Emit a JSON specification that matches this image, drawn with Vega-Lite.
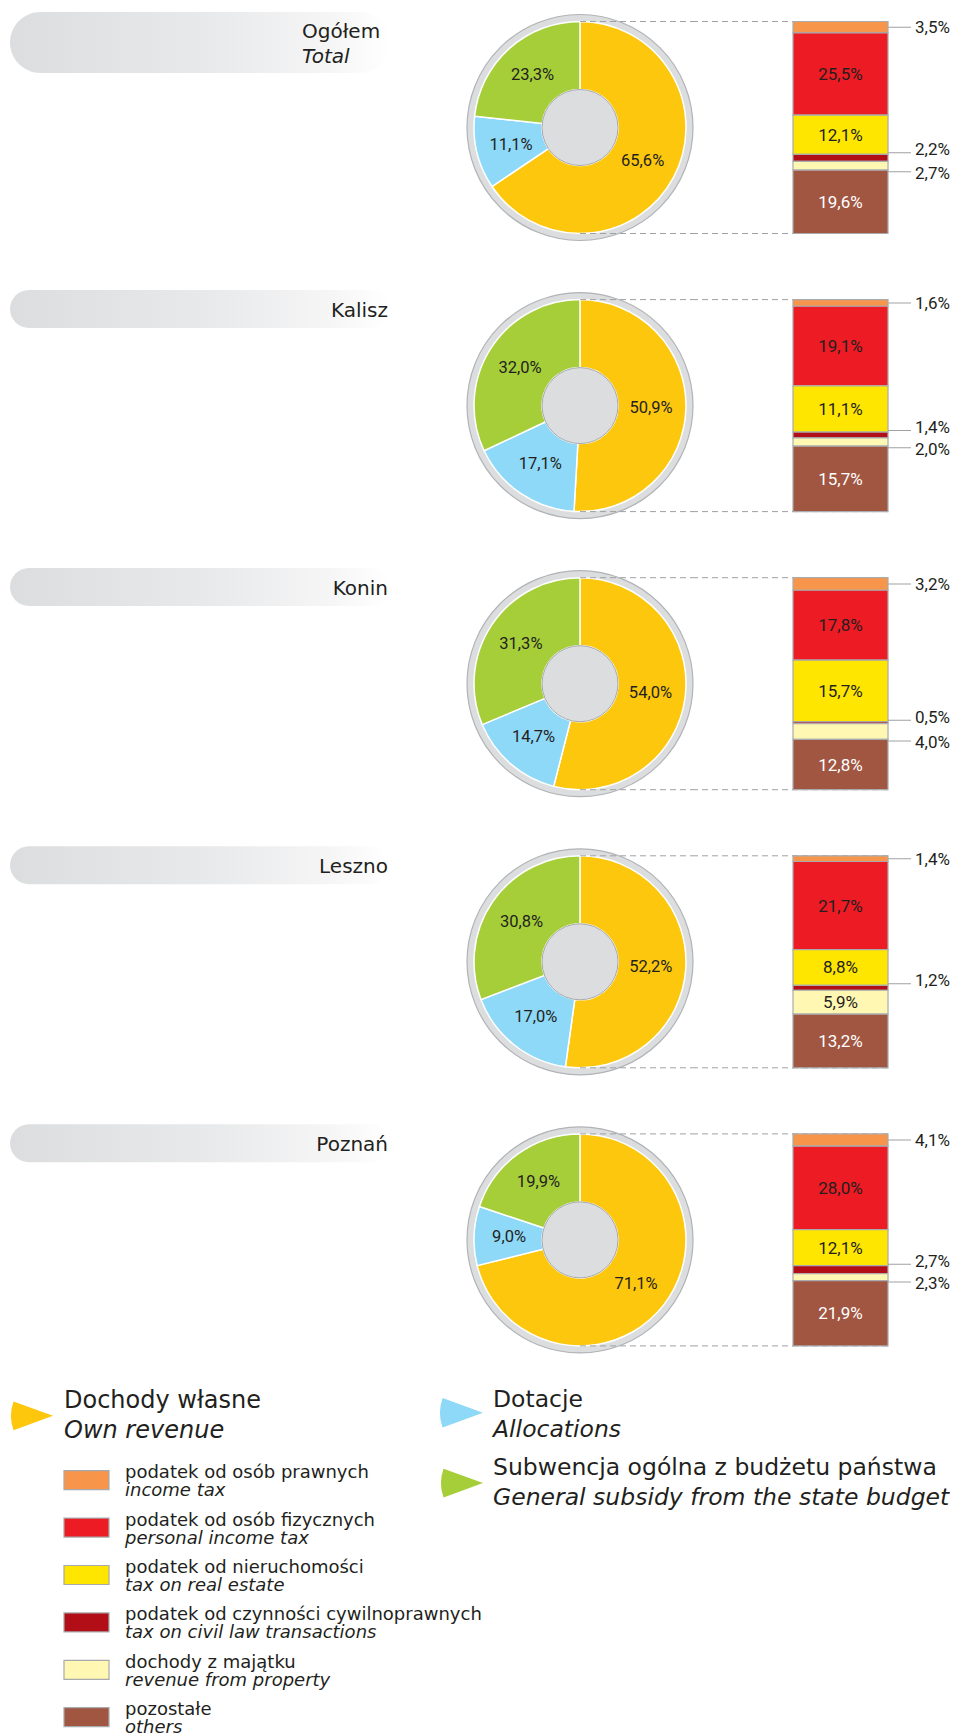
{
"$schema": "https://vega.github.io/schema/vega-lite/v6.json",
"padding": {"left": 10, "top": 12, "right": 0, "bottom": 0},
"background": "#ffffff",
"config": {
  "view": {"stroke": null},
  "locale": {"number": {"decimal": ",", "thousands": " ", "grouping": [3], "currency": ["", "%"]}}
},
"datasets": {
  "regions": [
    {"region": "Ogółem", "en": "Total"},
    {"region": "Kalisz", "en": ""},
    {"region": "Konin", "en": ""},
    {"region": "Leszno", "en": ""},
    {"region": "Poznań", "en": ""}
  ],
  "pie": [
    {"region": "Ogółem", "cat": "dochody", "value": 65.6},
    {"region": "Ogółem", "cat": "dotacje", "value": 11.1},
    {"region": "Ogółem", "cat": "subwencja", "value": 23.3},
    {"region": "Kalisz", "cat": "dochody", "value": 50.9},
    {"region": "Kalisz", "cat": "dotacje", "value": 17.1},
    {"region": "Kalisz", "cat": "subwencja", "value": 32.0},
    {"region": "Konin", "cat": "dochody", "value": 54.0},
    {"region": "Konin", "cat": "dotacje", "value": 14.7},
    {"region": "Konin", "cat": "subwencja", "value": 31.3},
    {"region": "Leszno", "cat": "dochody", "value": 52.2},
    {"region": "Leszno", "cat": "dotacje", "value": 17.0},
    {"region": "Leszno", "cat": "subwencja", "value": 30.8},
    {"region": "Poznań", "cat": "dochody", "value": 71.1},
    {"region": "Poznań", "cat": "dotacje", "value": 9.0},
    {"region": "Poznań", "cat": "subwencja", "value": 19.9}
  ],
  "bar": [
    {"region": "Ogółem", "cat": "prawne", "value": 3.5},
    {"region": "Ogółem", "cat": "fizyczne", "value": 25.5},
    {"region": "Ogółem", "cat": "nieruchomosci", "value": 12.1},
    {"region": "Ogółem", "cat": "czynnosci", "value": 2.2},
    {"region": "Ogółem", "cat": "majatek", "value": 2.7},
    {"region": "Ogółem", "cat": "pozostale", "value": 19.6},
    {"region": "Kalisz", "cat": "prawne", "value": 1.6},
    {"region": "Kalisz", "cat": "fizyczne", "value": 19.1},
    {"region": "Kalisz", "cat": "nieruchomosci", "value": 11.1},
    {"region": "Kalisz", "cat": "czynnosci", "value": 1.4},
    {"region": "Kalisz", "cat": "majatek", "value": 2.0},
    {"region": "Kalisz", "cat": "pozostale", "value": 15.7},
    {"region": "Konin", "cat": "prawne", "value": 3.2},
    {"region": "Konin", "cat": "fizyczne", "value": 17.8},
    {"region": "Konin", "cat": "nieruchomosci", "value": 15.7},
    {"region": "Konin", "cat": "czynnosci", "value": 0.5},
    {"region": "Konin", "cat": "majatek", "value": 4.0},
    {"region": "Konin", "cat": "pozostale", "value": 12.8},
    {"region": "Leszno", "cat": "prawne", "value": 1.4},
    {"region": "Leszno", "cat": "fizyczne", "value": 21.7},
    {"region": "Leszno", "cat": "nieruchomosci", "value": 8.8},
    {"region": "Leszno", "cat": "czynnosci", "value": 1.2},
    {"region": "Leszno", "cat": "majatek", "value": 5.9},
    {"region": "Leszno", "cat": "pozostale", "value": 13.2},
    {"region": "Poznań", "cat": "prawne", "value": 4.1},
    {"region": "Poznań", "cat": "fizyczne", "value": 28.0},
    {"region": "Poznań", "cat": "nieruchomosci", "value": 12.1},
    {"region": "Poznań", "cat": "czynnosci", "value": 2.7},
    {"region": "Poznań", "cat": "majatek", "value": 2.3},
    {"region": "Poznań", "cat": "pozostale", "value": 21.9}
  ],
  "legend_main": [
    {"key": "dochody", "pl": "Dochody własne", "en": "Own revenue"},
    {"key": "dotacje", "pl": "Dotacje", "en": "Allocations"},
    {"key": "subwencja", "pl": "Subwencja ogólna z budżetu państwa", "en": "General subsidy from the state budget"}
  ],
  "legend_items": [
    {"key": "prawne", "pl": "podatek od osób prawnych", "en": "income tax"},
    {"key": "fizyczne", "pl": "podatek od osób fizycznych", "en": "personal income tax"},
    {"key": "nieruchomosci", "pl": "podatek od nieruchomości", "en": "tax on real estate"},
    {"key": "czynnosci", "pl": "podatek od czynności cywilnoprawnych", "en": "tax on civil law transactions"},
    {"key": "majatek", "pl": "dochody z majątku", "en": "revenue from property"},
    {"key": "pozostale", "pl": "pozostałe", "en": "others"}
  ]
},
"bounds": "flush",
"spacing": 1385.8,
"vconcat": [
  {
    "bounds": "flush",
    "spacing": 457,
    "hconcat": [
      {
        "bounds": "flush",
        "spacing": 217,
        "vconcat": [
          {
            "width": 380, "height": 61,
            "view": {"stroke": null, "cornerRadius": 30.5, "fill": {"gradient": "linear", "x1": 0, "y1": 0, "x2": 1, "y2": 0, "stops": [{"offset": 0, "color": "#dcdddf"}, {"offset": 0.55, "color": "#e9eaeb"}, {"offset": 0.85, "color": "#f6f6f7"}, {"offset": 1, "color": "#ffffff"}]}},
            "data": {"name": "regions"},
            "transform": [{"filter": "datum.region == 'Ogółem'"}],
            "layer": [
              {"mark": {"type": "text", "align": "left", "baseline": "alphabetic", "dx": -88, "dy": -4.5, "font": "DejaVu Sans", "fontSize": 20, "fill": "#231f20"},
               "encoding": {"x": {"value": "width"}, "text": {"field": "region", "type": "nominal"}}},
              {"mark": {"type": "text", "align": "left", "baseline": "alphabetic", "dx": -88, "dy": 20.5, "font": "DejaVu Sans", "fontSize": 20, "fontStyle": "italic", "fill": "#231f20"},
               "encoding": {"x": {"value": "width"}, "text": {"field": "en", "type": "nominal"}}}
            ]
          },
          {
            "bounds": "flush",
            "spacing": 240.1,
            "vconcat": [
              {
                "width": 380, "height": 38,
                "view": {"stroke": null, "cornerRadius": 19, "fill": {"gradient": "linear", "x1": 0, "y1": 0, "x2": 1, "y2": 0, "stops": [{"offset": 0, "color": "#dcdddf"}, {"offset": 0.55, "color": "#e9eaeb"}, {"offset": 0.85, "color": "#f6f6f7"}, {"offset": 1, "color": "#ffffff"}]}},
                "data": {"name": "regions"},
                "transform": [{"filter": "datum.region == 'Kalisz'"}],
                "mark": {"type": "text", "align": "right", "baseline": "alphabetic", "dx": -2, "dy": 8, "font": "DejaVu Sans", "fontSize": 20, "fill": "#231f20"},
                "encoding": {"x": {"value": "width"}, "text": {"field": "region", "type": "nominal"}}
              },
              {
                "width": 380, "height": 38,
                "view": {"stroke": null, "cornerRadius": 19, "fill": {"gradient": "linear", "x1": 0, "y1": 0, "x2": 1, "y2": 0, "stops": [{"offset": 0, "color": "#dcdddf"}, {"offset": 0.55, "color": "#e9eaeb"}, {"offset": 0.85, "color": "#f6f6f7"}, {"offset": 1, "color": "#ffffff"}]}},
                "data": {"name": "regions"},
                "transform": [{"filter": "datum.region == 'Konin'"}],
                "mark": {"type": "text", "align": "right", "baseline": "alphabetic", "dx": -2, "dy": 8, "font": "DejaVu Sans", "fontSize": 20, "fill": "#231f20"},
                "encoding": {"x": {"value": "width"}, "text": {"field": "region", "type": "nominal"}}
              },
              {
                "width": 380, "height": 38,
                "view": {"stroke": null, "cornerRadius": 19, "fill": {"gradient": "linear", "x1": 0, "y1": 0, "x2": 1, "y2": 0, "stops": [{"offset": 0, "color": "#dcdddf"}, {"offset": 0.55, "color": "#e9eaeb"}, {"offset": 0.85, "color": "#f6f6f7"}, {"offset": 1, "color": "#ffffff"}]}},
                "data": {"name": "regions"},
                "transform": [{"filter": "datum.region == 'Leszno'"}],
                "mark": {"type": "text", "align": "right", "baseline": "alphabetic", "dx": -2, "dy": 8, "font": "DejaVu Sans", "fontSize": 20, "fill": "#231f20"},
                "encoding": {"x": {"value": "width"}, "text": {"field": "region", "type": "nominal"}}
              },
              {
                "width": 380, "height": 38,
                "view": {"stroke": null, "cornerRadius": 19, "fill": {"gradient": "linear", "x1": 0, "y1": 0, "x2": 1, "y2": 0, "stops": [{"offset": 0, "color": "#dcdddf"}, {"offset": 0.55, "color": "#e9eaeb"}, {"offset": 0.85, "color": "#f6f6f7"}, {"offset": 1, "color": "#ffffff"}]}},
                "data": {"name": "regions"},
                "transform": [{"filter": "datum.region == 'Poznań'"}],
                "mark": {"type": "text", "align": "right", "baseline": "alphabetic", "dx": -2, "dy": 8, "font": "DejaVu Sans", "fontSize": 20, "fill": "#231f20"},
                "encoding": {"x": {"value": "width"}, "text": {"field": "region", "type": "nominal"}}
              }
            ]
          }
        ]
      },
      {
        "bounds": "flush",
        "spacing": 226,
        "hconcat": [
          {
            "data": {"name": "pie"},
            "transform": [{"window": [{"op": "row_number", "as": "idx"}]}],
            "facet": {"row": {"field": "region", "type": "nominal", "sort": ["Ogółem", "Kalisz", "Konin", "Leszno", "Poznań"], "header": null}},
            "spacing": {"row": 47.1},
            "bounds": "flush",
            "spec": {
              "width": 226, "height": 231,
              "layer": [
                {"transform": [{"filter": "datum.cat == 'dochody'"}],
                 "mark": {"type": "arc", "theta": 0, "theta2": 6.2832, "outerRadius": 113, "innerRadius": 0, "fill": "#dcddde", "stroke": "#b1b3b6", "strokeWidth": 1.2}},
                {"mark": {"type": "arc", "outerRadius": 106, "innerRadius": 38, "stroke": "#ffffff", "strokeWidth": 1.5},
                 "encoding": {
                   "theta": {"field": "value", "type": "quantitative", "stack": "normalize"},
                   "order": {"field": "idx", "type": "quantitative"},
                   "color": {"field": "cat", "type": "nominal", "legend": null, "scale": {"domain": ["dochody", "dotacje", "subwencja", "prawne", "fizyczne", "nieruchomosci", "czynnosci", "majatek", "pozostale"], "range": ["#fdc70e", "#8ed8f8", "#a6ce39", "#f7964a", "#ed1c24", "#ffe600", "#b10e18", "#fff7b2", "#a15642"]}}
                 }},
                {"transform": [{"filter": "datum.cat == 'dochody'"}],
                 "mark": {"type": "arc", "theta": 0, "theta2": 6.2832, "outerRadius": 38, "innerRadius": 0, "fill": "#dcddde", "stroke": "#a7a9ac", "strokeWidth": 1}},
                {"mark": {"type": "text", "radius": 71, "font": "Roboto", "fontSize": 16.5, "fill": "#231f20", "baseline": "middle"},
                 "encoding": {
                   "theta": {"field": "value", "type": "quantitative", "stack": "normalize"},
                   "order": {"field": "idx", "type": "quantitative"},
                   "detail": {"field": "cat", "type": "nominal"},
                   "text": {"field": "value", "type": "quantitative", "format": "$.1f"}
                 }},
                {"transform": [{"filter": "datum.cat == 'dochody'"}],
                 "mark": {"type": "rule", "stroke": "#9fa1a4", "strokeDash": [6, 4], "strokeWidth": 1},
                 "encoding": {
                   "x": {"datum": 0.5, "type": "quantitative", "scale": {"domain": [0, 1], "nice": false, "zero": false}, "axis": null},
                   "x2": {"datum": 1},
                   "y": {"datum": 1, "type": "quantitative", "scale": {"domain": [0, 1], "padding": 9.5, "nice": false, "zero": false}, "axis": null}
                 }},
                {"transform": [{"filter": "datum.cat == 'dochody'"}],
                 "mark": {"type": "rule", "stroke": "#9fa1a4", "strokeDash": [6, 4], "strokeWidth": 1},
                 "encoding": {
                   "x": {"datum": 0.5, "type": "quantitative", "scale": {"domain": [0, 1], "nice": false, "zero": false}, "axis": null},
                   "x2": {"datum": 1},
                   "y": {"datum": 0, "type": "quantitative", "scale": {"domain": [0, 1], "padding": 9.5, "nice": false, "zero": false}, "axis": null}
                 }}
              ]
            }
          },
          {
            "data": {"name": "bar"},
            "transform": [{"window": [{"op": "row_number", "as": "idx"}]}],
            "facet": {"row": {"field": "region", "type": "nominal", "sort": ["Ogółem", "Kalisz", "Konin", "Leszno", "Poznań"], "header": null}},
            "spacing": {"row": 47.1},
            "bounds": "flush",
            "spec": {
              "width": 195, "height": 231,
              "layer": [
                {"transform": [{"filter": "datum.cat == 'prawne'"}],
                 "mark": {"type": "rule", "stroke": "#9fa1a4", "strokeDash": [6, 4], "strokeWidth": 1},
                 "encoding": {"y": {"datum": 1, "type": "quantitative", "scale": {"domain": [0, 1], "padding": 9.5, "nice": false, "zero": false}, "axis": null}}},
                {"transform": [{"filter": "datum.cat == 'prawne'"}],
                 "mark": {"type": "rule", "stroke": "#9fa1a4", "strokeDash": [6, 4], "strokeWidth": 1},
                 "encoding": {"y": {"datum": 0, "type": "quantitative", "scale": {"domain": [0, 1], "padding": 9.5, "nice": false, "zero": false}, "axis": null}}},
                {"mark": {"type": "tick", "orient": "horizontal", "size": 46, "thickness": 1, "color": "#9fa1a4"},
                 "encoding": {
                   "x": {"value": "width"},
                   "y": {"field": "value", "type": "quantitative", "stack": "normalize", "bandPosition": 0.5, "axis": null},
                   "order": {"field": "idx", "type": "quantitative", "sort": "descending"},
                   "detail": {"field": "cat", "type": "nominal"},
                   "opacity": {"condition": {"test": "datum.cat == 'prawne' && datum.value < 5", "value": 1}, "value": 0}
                 }},
                {"mark": {"type": "tick", "orient": "horizontal", "size": 46, "thickness": 1, "color": "#9fa1a4", "yOffset": -1.5},
                 "encoding": {
                   "x": {"value": "width"},
                   "y": {"field": "value", "type": "quantitative", "stack": "normalize", "bandPosition": 1, "axis": null},
                   "order": {"field": "idx", "type": "quantitative", "sort": "descending"},
                   "detail": {"field": "cat", "type": "nominal"},
                   "opacity": {"condition": {"test": "datum.cat == 'czynnosci' && datum.value < 5", "value": 1}, "value": 0}
                 }},
                {"mark": {"type": "tick", "orient": "horizontal", "size": 46, "thickness": 1, "color": "#9fa1a4", "yOffset": 1.5},
                 "encoding": {
                   "x": {"value": "width"},
                   "y": {"field": "value", "type": "quantitative", "stack": "normalize", "bandPosition": 0, "axis": null},
                   "order": {"field": "idx", "type": "quantitative", "sort": "descending"},
                   "detail": {"field": "cat", "type": "nominal"},
                   "opacity": {"condition": {"test": "datum.cat == 'majatek' && datum.value < 5", "value": 1}, "value": 0}
                 }},
                {"mark": {"type": "bar", "stroke": "#a9abae", "strokeWidth": 1.2},
                 "encoding": {
                   "x": {"datum": "bar", "type": "nominal", "scale": {"paddingInner": 0, "paddingOuter": 0.5263, "align": 1}, "axis": null},
                   "y": {"field": "value", "type": "quantitative", "stack": "normalize", "scale": {"domain": [0, 1], "padding": 9.5, "nice": false, "zero": false}, "axis": null},
                   "order": {"field": "idx", "type": "quantitative", "sort": "descending"},
                   "color": {"field": "cat", "type": "nominal", "legend": null, "scale": {"domain": ["dochody", "dotacje", "subwencja", "prawne", "fizyczne", "nieruchomosci", "czynnosci", "majatek", "pozostale"], "range": ["#fdc70e", "#8ed8f8", "#a6ce39", "#f7964a", "#ed1c24", "#ffe600", "#b10e18", "#fff7b2", "#a15642"]}}
                 }},
                {"mark": {"type": "text", "font": "Roboto", "baseline": "middle", "dy": 1},
                 "encoding": {
                   "x": {"datum": "bar", "type": "nominal", "axis": null},
                   "y": {"field": "value", "type": "quantitative", "stack": "normalize", "bandPosition": 0.5, "axis": null},
                   "order": {"field": "idx", "type": "quantitative", "sort": "descending"},
                   "detail": {"field": "cat", "type": "nominal"},
                   "size": {"condition": {"test": "datum.value >= 5", "value": 17}, "value": 0},
                   "text": {"condition": {"test": "datum.value < 5", "value": ""}, "field": "value", "type": "quantitative", "format": "$.1f"},
                   "color": {"condition": {"test": "datum.cat == 'pozostale'", "value": "#ffffff"}, "value": "#231f20"}
                 }},
                {"mark": {"type": "text", "font": "Roboto", "align": "left", "baseline": "middle", "dx": 27, "dy": 1, "fill": "#231f20"},
                 "encoding": {
                   "x": {"value": "width"},
                   "y": {"field": "value", "type": "quantitative", "stack": "normalize", "bandPosition": 0.5, "axis": null},
                   "order": {"field": "idx", "type": "quantitative", "sort": "descending"},
                   "detail": {"field": "cat", "type": "nominal"},
                   "size": {"condition": {"test": "datum.cat == 'prawne' && datum.value < 5", "value": 17}, "value": 0},
                   "text": {"condition": {"test": "datum.cat != 'prawne' || datum.value >= 5", "value": ""}, "field": "value", "type": "quantitative", "format": "$.1f"}
                 }},
                {"mark": {"type": "text", "font": "Roboto", "align": "left", "baseline": "middle", "dx": 27, "dy": -4, "fill": "#231f20"},
                 "encoding": {
                   "x": {"value": "width"},
                   "y": {"field": "value", "type": "quantitative", "stack": "normalize", "bandPosition": 1, "axis": null},
                   "order": {"field": "idx", "type": "quantitative", "sort": "descending"},
                   "detail": {"field": "cat", "type": "nominal"},
                   "size": {"condition": {"test": "datum.cat == 'czynnosci' && datum.value < 5", "value": 17}, "value": 0},
                   "text": {"condition": {"test": "datum.cat != 'czynnosci' || datum.value >= 5", "value": ""}, "field": "value", "type": "quantitative", "format": "$.1f"}
                 }},
                {"mark": {"type": "text", "font": "Roboto", "align": "left", "baseline": "middle", "dx": 27, "dy": 3.5, "fill": "#231f20"},
                 "encoding": {
                   "x": {"value": "width"},
                   "y": {"field": "value", "type": "quantitative", "stack": "normalize", "bandPosition": 0, "axis": null},
                   "order": {"field": "idx", "type": "quantitative", "sort": "descending"},
                   "detail": {"field": "cat", "type": "nominal"},
                   "size": {"condition": {"test": "datum.cat == 'majatek' && datum.value < 5", "value": 17}, "value": 0},
                   "text": {"condition": {"test": "datum.cat != 'majatek' || datum.value >= 5", "value": ""}, "field": "value", "type": "quantitative", "format": "$.1f"}
                 }}
              ]
            }
          }
        ]
      }
    ]
  },
  {
    "bounds": "flush",
    "spacing": 430,
    "hconcat": [
      {
        "bounds": "flush",
        "spacing": 29.9,
        "vconcat": [
          {
            "width": 43, "height": 36,
            "data": {"name": "legend_main"},
            "transform": [{"filter": "datum.key == 'dochody'"}],
            "layer": [
              {"mark": {"type": "arc", "theta": 4.3633, "theta2": 5.0615, "outerRadius": 42, "innerRadius": 0},
               "encoding": {"x": {"value": "width"}, "color": {"field": "key", "type": "nominal", "legend": null, "scale": {"domain": ["dochody", "dotacje", "subwencja", "prawne", "fizyczne", "nieruchomosci", "czynnosci", "majatek", "pozostale"], "range": ["#fdc70e", "#8ed8f8", "#a6ce39", "#f7964a", "#ed1c24", "#ffe600", "#b10e18", "#fff7b2", "#a15642"]}}}},
              {"mark": {"type": "text", "align": "left", "baseline": "alphabetic", "dx": 11, "dy": -8, "font": "DejaVu Sans", "fontSize": 24, "fill": "#231f20"},
               "encoding": {"x": {"value": "width"}, "text": {"field": "pl", "type": "nominal"}}},
              {"mark": {"type": "text", "align": "left", "baseline": "alphabetic", "dx": 11, "dy": 22, "font": "DejaVu Sans", "fontSize": 24, "fontStyle": "italic", "fill": "#231f20"},
               "encoding": {"x": {"value": "width"}, "text": {"field": "en", "type": "nominal"}}}
            ]
          },
          {
            "width": 99, "height": 270,
            "data": {"name": "legend_items"},
            "layer": [
              {"mark": {"type": "bar", "stroke": "#a7a9ac", "strokeWidth": 1.2},
               "encoding": {
                 "x": {"datum": "sq", "type": "nominal", "scale": {"paddingInner": 0, "paddingOuter": 0.6, "align": 1}, "axis": null},
                 "y": {"field": "key", "type": "nominal", "sort": null, "scale": {"paddingInner": 0.6, "paddingOuter": 0.148}, "axis": null},
                 "color": {"field": "key", "type": "nominal", "legend": null, "scale": {"domain": ["dochody", "dotacje", "subwencja", "prawne", "fizyczne", "nieruchomosci", "czynnosci", "majatek", "pozostale"], "range": ["#fdc70e", "#8ed8f8", "#a6ce39", "#f7964a", "#ed1c24", "#ffe600", "#b10e18", "#fff7b2", "#a15642"]}}
               }},
              {"mark": {"type": "text", "align": "left", "baseline": "alphabetic", "dx": 16, "dy": -2, "font": "DejaVu Sans", "fontSize": 18, "fill": "#231f20"},
               "encoding": {"x": {"value": "width"}, "y": {"field": "key", "type": "nominal", "sort": null, "axis": null}, "text": {"field": "pl", "type": "nominal"}}},
              {"mark": {"type": "text", "align": "left", "baseline": "alphabetic", "dx": 16, "dy": 16, "font": "DejaVu Sans", "fontSize": 18, "fontStyle": "italic", "fill": "#231f20"},
               "encoding": {"x": {"value": "width"}, "y": {"field": "key", "type": "nominal", "sort": null, "axis": null}, "text": {"field": "en", "type": "nominal"}}}
            ]
          }
        ]
      },
      {
        "bounds": "flush",
        "spacing": 40.3,
        "vconcat": [
          {
            "width": 43, "height": 30,
            "data": {"name": "legend_main"},
            "transform": [{"filter": "datum.key == 'dotacje'"}],
            "layer": [
              {"mark": {"type": "arc", "theta": 4.3633, "theta2": 5.0615, "outerRadius": 43, "innerRadius": 0},
               "encoding": {"x": {"value": "width"}, "color": {"field": "key", "type": "nominal", "legend": null, "scale": {"domain": ["dochody", "dotacje", "subwencja", "prawne", "fizyczne", "nieruchomosci", "czynnosci", "majatek", "pozostale"], "range": ["#fdc70e", "#8ed8f8", "#a6ce39", "#f7964a", "#ed1c24", "#ffe600", "#b10e18", "#fff7b2", "#a15642"]}}}},
              {"mark": {"type": "text", "align": "left", "baseline": "alphabetic", "dx": 10, "dy": -5.4, "font": "DejaVu Sans", "fontSize": 23.5, "fill": "#231f20"},
               "encoding": {"x": {"value": "width"}, "text": {"field": "pl", "type": "nominal"}}},
              {"mark": {"type": "text", "align": "left", "baseline": "alphabetic", "dx": 10, "dy": 24, "font": "DejaVu Sans", "fontSize": 23.5, "fontStyle": "italic", "fill": "#231f20"},
               "encoding": {"x": {"value": "width"}, "text": {"field": "en", "type": "nominal"}}}
            ]
          },
          {
            "width": 43, "height": 30,
            "data": {"name": "legend_main"},
            "transform": [{"filter": "datum.key == 'subwencja'"}],
            "layer": [
              {"mark": {"type": "arc", "theta": 4.3633, "theta2": 5.0615, "outerRadius": 42, "innerRadius": 0},
               "encoding": {"x": {"value": "width"}, "color": {"field": "key", "type": "nominal", "legend": null, "scale": {"domain": ["dochody", "dotacje", "subwencja", "prawne", "fizyczne", "nieruchomosci", "czynnosci", "majatek", "pozostale"], "range": ["#fdc70e", "#8ed8f8", "#a6ce39", "#f7964a", "#ed1c24", "#ffe600", "#b10e18", "#fff7b2", "#a15642"]}}}},
              {"mark": {"type": "text", "align": "left", "baseline": "alphabetic", "dx": 10, "dy": -8, "font": "DejaVu Sans", "fontSize": 23.5, "fill": "#231f20"},
               "encoding": {"x": {"value": "width"}, "text": {"field": "pl", "type": "nominal"}}},
              {"mark": {"type": "text", "align": "left", "baseline": "alphabetic", "dx": 10, "dy": 22, "font": "DejaVu Sans", "fontSize": 23.5, "fontStyle": "italic", "fill": "#231f20"},
               "encoding": {"x": {"value": "width"}, "text": {"field": "en", "type": "nominal"}}}
            ]
          }
        ]
      }
    ]
  }
]
}
